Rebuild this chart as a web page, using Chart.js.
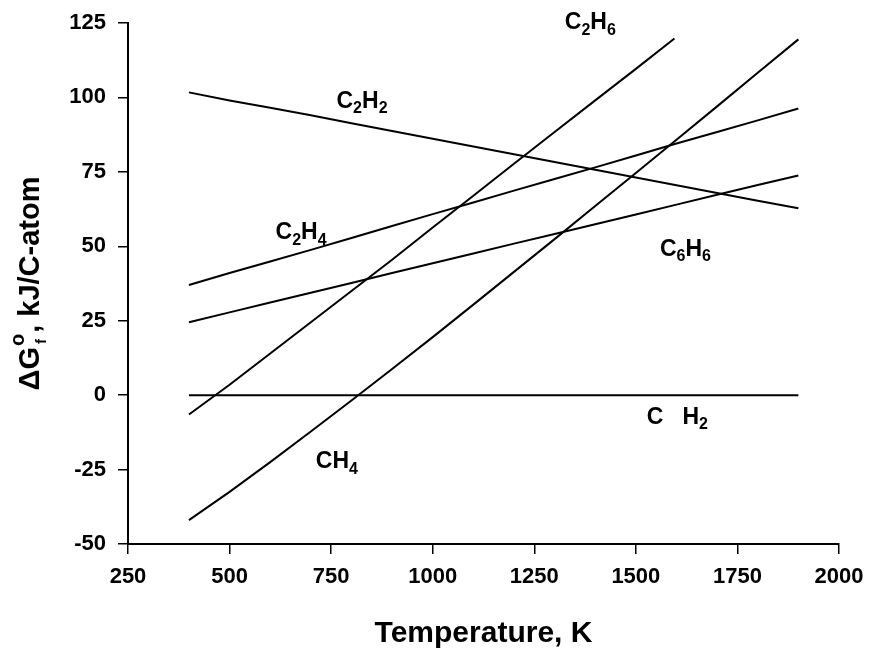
<!DOCTYPE html>
<html>
<head>
<meta charset="utf-8">
<script src="https://cdn.jsdelivr.net/npm/chart.js@4.4.1/dist/chart.umd.min.js"></script>
<style>
    body { margin: 0; background: #fff; }
    canvas { display: block; }
</style>
</head>
<body>
<canvas id="graph1" width="869" height="650"></canvas>
<script>

// 温度 (K)
const temps      = [400, 500, 600, 700, 800, 900, 1000, 1100, 1200, 1300, 1400, 1500, 1600, 1700, 1800, 1900];
const temps_c2h6 = [400, 500, 600, 700, 800, 900, 1000, 1100, 1200, 1300, 1400, 1500, 1595];

// ΔG°f kJ/C-atom
const g_ch4  = [-42, -32.5, -22.5, -12.2, -1.8, 8.8, 19.5, 30.4, 41.4, 52.4, 63.5, 74.6, 85.8, 97, 108.3, 119.5];
const g_c2h6 = [-6.5, 3.5, 14, 24.5, 35, 45.5, 56.3, 67, 77.7, 88.4, 99, 109.6, 119.8];
const g_c2h2 = [101.7, 99, 96.5, 94, 91.3, 88.7, 86.1, 83.5, 80.9, 78.3, 75.7, 73.1, 70.5, 67.9, 65.3, 62.8];
const g_c2h4 = [37, 41, 44.9, 48.8, 52.8, 56.8, 60.8, 64.7, 68.7, 72.6, 76.5, 80.5, 84.5, 88.4, 92.3, 96.3];
const g_c6h6 = [24.5, 27.8, 31.1, 34.4, 37.7, 41, 44.3, 47.6, 50.9, 54.1, 57.4, 60.7, 64, 67.3, 70.6, 73.8];
const temps_elem = [400, 1900];
const g_elem     = [0, 0];

const x_ticks = [250, 500, 750, 1000, 1250, 1500, 1750, 2000];
const y_ticks = [-50, -25, 0, 25, 50, 75, 100, 125];

// 線のラベル (数字は下付き)
const line_labels = [
    { text: "C2H6",   x: 1388, y: 125 },
    { text: "C2H2",   x: 826,  y: 98.7 },
    { text: "C2H4",   x: 676,  y: 54.5 },
    { text: "C6H6",   x: 1622, y: 49 },
    { text: "CH4",    x: 764,  y: -22.5 },
    { text: "C   H2", x: 1602, y: -7.5 },
];

const FONT = '"Liberation Sans", Arial, Helvetica, sans-serif';

window.addEventListener("load", function () {
    draw_chart();
});

function to_points(xs, ys) {
    return xs.map((x, i) => ({ x: x, y: ys[i] }));
}

function make_line(label, xs, ys) {
    return {
        label: label,
        data: to_points(xs, ys),
        showLine: true,
        borderColor: "#000",
        backgroundColor: "#000",
        borderWidth: 2,
        pointRadius: 0,
        tension: 0,
    };
}

// C2H6 のように数字を下付きで描く
function draw_formula(ctx, text, cx, cy, big, small) {
    const parts = text.split("").map(ch => ({ ch: ch, sub: /[0-9]/.test(ch) }));
    let w = 0;
    for (const p of parts) {
        ctx.font = "bold " + (p.sub ? small : big) + "px " + FONT;
        p.w = ctx.measureText(p.ch).width;
        w += p.w;
    }
    let x = cx - w / 2;
    ctx.textAlign = "left";
    ctx.textBaseline = "middle";
    for (const p of parts) {
        ctx.font = "bold " + (p.sub ? small : big) + "px " + FONT;
        ctx.fillText(p.ch, x, p.sub ? cy + big * 0.32 : cy);
        x += p.w;
    }
}

const text_plugin = {
    id: "texts",
    afterDraw(chart) {
        const ctx = chart.ctx;
        const xs = chart.scales.x;
        const ys = chart.scales.y;
        const area = chart.chartArea;
        ctx.save();
        ctx.fillStyle = "#000";

        for (const l of line_labels) {
            draw_formula(ctx, l.text, xs.getPixelForValue(l.x), ys.getPixelForValue(l.y), 23, 16);
        }

        // x軸タイトル
        ctx.font = "bold 30px " + FONT;
        ctx.textAlign = "center";
        ctx.textBaseline = "middle";
        ctx.fillText("Temperature, K", (area.left + area.right) / 2, 634);

        // y軸タイトル ΔG°f, kJ/C-atom
        ctx.translate(31, (area.top + area.bottom) / 2);
        ctx.rotate(-Math.PI / 2);
        const big = "bold 29px " + FONT;
        const sup = "bold 20px " + FONT;
        const sub = "bold 15px " + FONT;
        ctx.font = big;
        const w1 = ctx.measureText("\u0394G").width;
        const w3 = ctx.measureText(", kJ/C-atom").width;
        ctx.font = sup;
        const w2 = ctx.measureText("o").width + 2;
        let x = -(w1 + w2 + w3) / 2;
        ctx.textAlign = "left";
        ctx.font = big;
        ctx.fillText("\u0394G", x, 0);
        x += w1;
        ctx.font = sup;
        ctx.fillText("o", x + 1, -13);
        ctx.font = sub;
        ctx.fillText("f", x + 3, 11);
        x += w2;
        ctx.font = big;
        ctx.fillText(", kJ/C-atom", x, 0);
        ctx.restore();
    }
};

function draw_chart() {
    const axis_grid = {
        drawOnChartArea: false,
        drawTicks: true,
        tickLength: 10,
        color: "#000",
        lineWidth: 1.5,
    };
    const axis_border = { display: true, color: "#000", width: 2 };
    const tick_font = { family: FONT, size: 22, weight: "bold" };

    const ctx = document.getElementById("graph1").getContext("2d");
    new Chart(ctx, {
        type: "scatter",
        data: {
            datasets: [
                make_line("C2H2", temps, g_c2h2),
                make_line("C2H4", temps, g_c2h4),
                make_line("C6H6", temps, g_c6h6),
                make_line("C2H6", temps_c2h6, g_c2h6),
                make_line("CH4", temps, g_ch4),
                make_line("C + H2", temps_elem, g_elem),
            ]
        },
        options: {
            responsive: false,
            animation: false,
            layout: { padding: { left: 0, top: 23, right: 30, bottom: 0 } },
            plugins: {
                legend: { display: false },
                tooltip: { enabled: false },
            },
            scales: {
                x: {
                    type: "linear",
                    min: x_ticks[0],
                    max: x_ticks[x_ticks.length - 1],
                    afterBuildTicks: s => { s.ticks = x_ticks.map(v => ({ value: v })); },
                    afterFit: s => { s.height = 106; s.paddingLeft = 0; s.paddingRight = 0; },
                    grid: axis_grid,
                    border: axis_border,
                    ticks: {
                        color: "#000", font: tick_font, padding: 10, maxRotation: 0,
                        callback: v => String(v),
                    },
                },
                y: {
                    min: y_ticks[0],
                    max: y_ticks[y_ticks.length - 1],
                    afterBuildTicks: s => { s.ticks = y_ticks.map(v => ({ value: v })); },
                    afterFit: s => { s.width = 128; s.paddingTop = 0; s.paddingBottom = 0; },
                    grid: axis_grid,
                    border: axis_border,
                    ticks: {
                        color: "#000", font: tick_font, padding: 12,
                        callback: v => String(v),
                    },
                }
            }
        },
        plugins: [text_plugin]
    });
}
</script>
</body>
</html>
